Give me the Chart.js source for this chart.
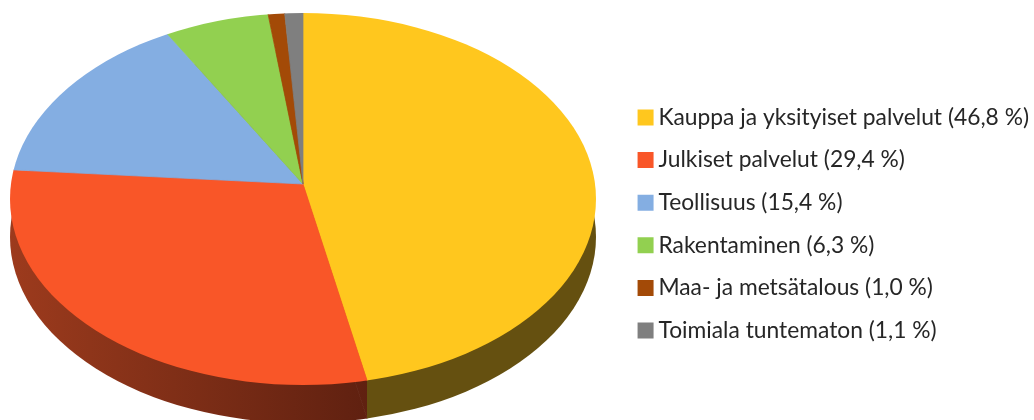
<!DOCTYPE html>
<html>
<head>
<meta charset="utf-8">
<script src="https://cdn.jsdelivr.net/npm/chart.js@4/dist/chart.umd.js"></script>
<style>
  body { margin: 0; background: #fff; }
  #wrap { width: 1034px; height: 420px; }
</style>
</head>
<body>
<div id="wrap"><canvas id="pie"></canvas></div>
<script>
const categories = [
    "Kauppa ja yksityiset palvelut",
    "Julkiset palvelut",
    "Teollisuus",
    "Rakentaminen",
    "Maa- ja metsätalous",
    "Toimiala tuntematon"
];
const shares = [46.8, 29.4, 15.4, 6.3, 1.0, 1.1];
const colors = ["#FFC71E", "#F95628", "#84AEE2", "#92D050", "#A34A07", "#7F7F7F"];

const labels = categories.map((c, i) => `${c} (${shares[i].toFixed(1).replace(".", ",")} %)`);

// look of the tilted pie: outline is an ellipse, the hub sits above its centre
const tilt = { hubX: 303, hubY: 184, cy: 199, rx: 293, ry: 186, depth: 38 };
const OVER = 1.2; // slices drawn oversize, the ellipse clip trims them
const halves = [
    { top: -100, bottom: tilt.hubY, sx: tilt.rx * OVER, sy: tilt.rx * OVER / 1.55 },
    { top: tilt.hubY, bottom: 600, sx: tilt.rx * OVER, sy: tilt.rx * OVER / 1.6 }
];

function drawSlices(ctx, arcs, shift) {
    for (const half of halves) {
        ctx.save();
        ctx.beginPath();
        ctx.ellipse(tilt.hubX, tilt.cy + shift, tilt.rx, tilt.ry, 0, 0, Math.PI * 2);
        ctx.clip();
        ctx.beginPath();
        ctx.rect(0, half.top + shift, 1034, half.bottom - half.top);
        ctx.clip();
        ctx.translate(tilt.hubX, tilt.hubY + shift);
        ctx.scale(half.sx / arcs[0].outerRadius, half.sy / arcs[0].outerRadius);
        ctx.translate(-arcs[0].x, -arcs[0].y);
        arcs.forEach(a => a.draw(ctx));
        ctx.restore();
    }
}

// x where a slice edge on the lower half reaches the ellipse outline
function rimX(angle) {
    const dx = Math.cos(angle) * halves[1].sx;
    const dy = Math.sin(angle) * halves[1].sy;
    const a = dx * dx / (tilt.rx * tilt.rx) + dy * dy / (tilt.ry * tilt.ry);
    const off = tilt.hubY - tilt.cy;
    const b = 2 * dy * off / (tilt.ry * tilt.ry);
    const c = off * off / (tilt.ry * tilt.ry) - 1;
    const t = (-b + Math.sqrt(b * b - 4 * a * c)) / (2 * a);
    return tilt.hubX + t * dx;
}

function paint(arcs, fill) {
    arcs.forEach((a, i) => {
        const f = Array.isArray(fill) ? fill[i] : fill;
        a.options.backgroundColor = f;
        a.options.borderColor = f;
    });
}

const tiltedPie = {
    id: "tiltedPie",
    beforeDatasetsDraw(chart) {
        const ctx = chart.ctx;
        const arcs = chart.getDatasetMeta(0).data;
        const splitX = rimX(arcs[0].endAngle);

        // side wall first: same pie pushed down, one dark colour either side of the split
        const shade = ctx.createLinearGradient(20, 0, splitX, 0);
        shade.addColorStop(0, "#C84A25");
        shade.addColorStop(0.5, "#8E351A");
        shade.addColorStop(1, "#5A1E0F");
        const walls = [
            { from: 0, to: splitX, fill: shade },
            { from: splitX, to: 1034, fill: "#655010" }
        ];
        for (const w of walls) {
            ctx.save();
            ctx.beginPath();
            ctx.rect(w.from, 0, w.to - w.from, 420);
            ctx.clip();
            paint(arcs, w.fill);
            drawSlices(ctx, arcs, tilt.depth);
            ctx.restore();
        }

        paint(arcs, colors);
        drawSlices(ctx, arcs, 0);
        return false;
    }
};

new Chart(document.getElementById("pie"), {
    type: "pie",
    data: {
        labels: labels,
        datasets: [{
            data: shares,
            backgroundColor: colors,
            borderColor: colors,
            borderWidth: 0.5
        }]
    },
    options: {
        responsive: true,
        maintainAspectRatio: false,
        animation: false,
        layout: { padding: { top: 28, right: -5 } },
        plugins: {
            tooltip: { enabled: false },
            legend: {
                position: "right",
                labels: {
                    color: "#262626",
                    font: { family: "Lato", size: 22.8 },
                    // narrow box plus a thick same-colour stroke: 16px square, tight gap to the text
                    boxWidth: 3,
                    boxHeight: 3,
                    padding: 19.8,
                    generateLabels(chart) {
                        return Chart.overrides.pie.plugins.legend.labels.generateLabels(chart).map(item => {
                            item.lineWidth = 13;
                            item.strokeStyle = item.fillStyle;
                            return item;
                        });
                    }
                }
            }
        }
    },
    plugins: [tiltedPie]
});
</script>
</body>
</html>
